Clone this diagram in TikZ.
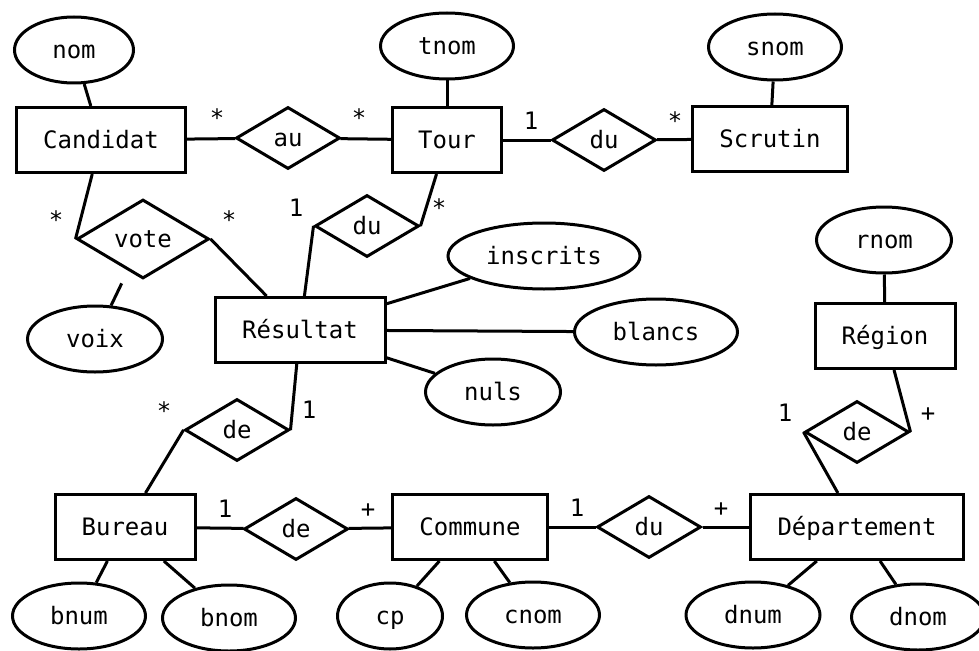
\documentclass[tikz,border=0pt]{standalone}
\usepackage{fontspec}
\setmonofont{DejaVu Sans Mono}
\usetikzlibrary{shapes.geometric}

\begin{document}
\begin{tikzpicture}[
			x=1pt, y=-1pt,
			font=\ttfamily\fontsize{24}{28}\selectfont,
			line width=3pt,
			entite/.style={draw, rectangle, inner sep=0pt, minimum width=#1, minimum height=65pt, text height=17.5pt, text depth=0pt},
			entite/.default=140pt,
			assoc/.style={draw, diamond, inner sep=0pt, minimum width=#1, minimum height=62pt, text height=17.5pt, text depth=0pt},
			assoc/.default=104pt,
			attr/.style={draw, ellipse, inner sep=0pt, minimum width=#1, minimum height=66pt, text height=17.5pt, text depth=0pt},
			attr/.default=133pt,
			card/.style={inner sep=0pt, anchor=base}
		]
		\useasboundingbox (0,0) rectangle (979,650);

		% entites
		\node[entite=169pt] (cand) at (101,140) {Candidat};
		\node[entite=109pt] (tour) at (447,140) {Tour};
		\node[entite=155pt] (scrut) at (770,139) {Scrutin};
		\node[entite=170pt] (res) at (300,330) {Résultat};
		\node[entite] (reg) at (885,336) {Région};
		\node[entite] (bur) at (125,527) {Bureau};
		\node[entite=155pt] (comm) at (470,527) {Commune};
		\node[entite=213pt] (dep) at (857,527) {Département};

		% associations
		\node[assoc] (au) at (288,138) {au};
		\node[assoc] (du1) at (604,140) {du};
		\node[assoc=132pt, minimum height=79pt] (vote) at (143,239) {vote};
		\node[assoc] (du2) at (367,226) {du};
		\node[assoc] (de1) at (237,430) {de};
		\node[assoc] (de2) at (296,529) {de};
		\node[assoc] (du3) at (649,527) {du};
		\node[assoc] (de3) at (857,432) {de};

		% attributs
		\node[attr=119pt] (nom) at (74,50) {nom};
		\node[attr] (tnom) at (447,46) {tnom};
		\node[attr] (snom) at (775,47) {snom};
		\node[attr=135pt] (rnom) at (884,240) {rnom};
		\node[attr=192pt] (inscr) at (544,256) {inscrits};
		\node[attr=163pt] (blancs) at (656,332) {blancs};
		\node[attr=135pt] (nuls) at (493,392) {nuls};
		\node[attr=135pt] (voix) at (95,339) {voix};
		\node[attr] (bnum) at (79,616) {bnum};
		\node[attr] (bnom) at (229,618) {bnom};
		\node[attr=105pt] (cp) at (390,616) {cp};
		\node[attr] (cnom) at (533,615) {cnom};
		\node[attr=134pt] (dnum) at (753,615) {dnum};
		\node[attr] (dnom) at (918,617) {dnom};

		% cardinalites
		\node[card] (k1) at (217,127) {*};
		\node[card] (k2) at (359,127) {*};
		\node[card] (k3) at (531,129) {1};
		\node[card] (k4) at (675,129) {*};
		\node[card] (k5) at (56,228) {*};
		\node[card] (k6) at (229,228) {*};
		\node[card] (k7) at (296,216) {1};
		\node[card] (k8) at (439,216) {*};
		\node[card] (k9) at (164,419) {*};
		\node[card] (k10) at (309,418) {1};
		\node[card] (k11) at (225,517) {1};
		\node[card] (k12) at (368,517) {+};
		\node[card] (k13) at (577,516) {1};
		\node[card] (k14) at (721,516) {+};
		\node[card] (k15) at (785,421) {1};
		\node[card] (k16) at (928,421) {+};

		% liens
		\draw (nom) -- (cand);
		\draw (tnom) -- (tour);
		\draw (snom) -- (scrut);
		\draw (cand) -- (au);
		\draw (au) -- (tour);
		\draw (tour) -- (du1);
		\draw (du1) -- (scrut);
		\draw (cand) -- (vote.west);
		\draw (vote.east) -- (res);
		\draw[shorten >=14pt] (voix) -- (vote);
		\draw (tour) -- (du2.east);
		\draw (du2.west) -- (res);
		\draw (res) -- (inscr);
		\draw (res) -- (blancs);
		\draw (res) -- (nuls);
		\draw (res) -- (de1.east);
		\draw (de1.west) -- (bur);
		\draw (bur) -- (de2);
		\draw (de2) -- (comm);
		\draw (comm) -- (du3);
		\draw (du3) -- (dep);
		\draw (rnom) -- (reg);
		\draw (reg) -- (de3.east);
		\draw (de3.west) -- (dep);
		\draw (bur) -- (bnum);
		\draw (bur) -- (bnom);
		\draw (comm) -- (cp);
		\draw (comm) -- (cnom);
		\draw (dep) -- (dnum);
		\draw (dep) -- (dnom);
	\end{tikzpicture}
\end{document}
